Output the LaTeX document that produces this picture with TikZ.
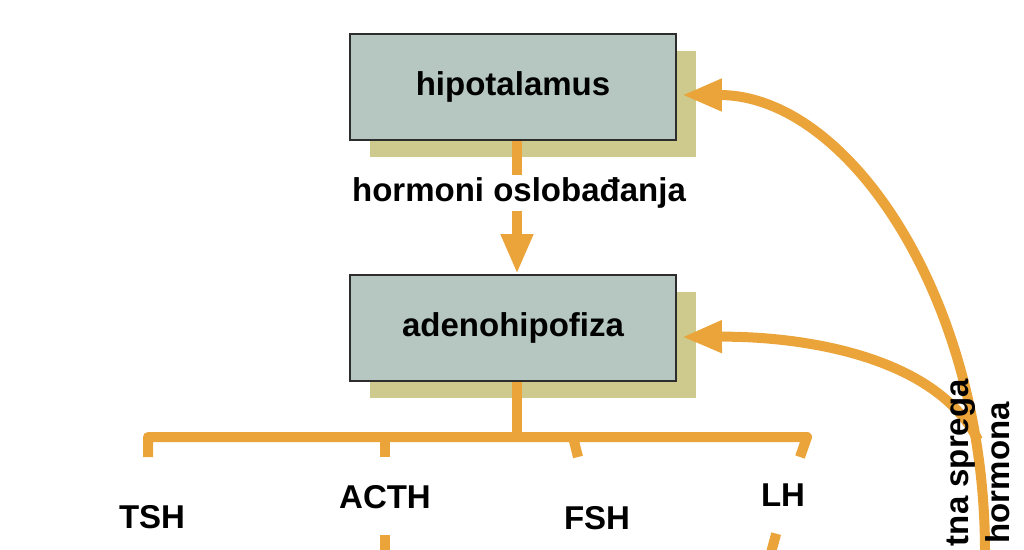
\documentclass[tikz,border=0pt]{standalone}
\usepackage{fontspec}
\setmainfont{Liberation Sans}
\usetikzlibrary{arrows.meta,shadows}

\definecolor{flowOrange}{RGB}{234,164,58}
\definecolor{boxFill}{RGB}{181,199,192}
\definecolor{boxShade}{RGB}{206,201,140}
\definecolor{boxLine}{RGB}{45,45,45}

\begin{document}
\begin{tikzpicture}
[x=1pt,y=-1pt,%
  flowDecorate/.style={draw=flowOrange,line width=10pt},%
  tipDecorate/.style={flowDecorate,-{Triangle[width=30pt,length=40pt]}},%
  boxDecorate/.style={shape=rectangle,draw=boxLine,line width=1.8pt,fill=boxFill,%
    minimum width=326pt,minimum height=106pt,%
    drop shadow={shadow xshift=20pt,shadow yshift=-17pt,fill=boxShade,opacity=1},%
    font=\bfseries\fontsize{33}{38}\selectfont},%
  textDecorate/.style={inner sep=2pt,font=\bfseries\fontsize{33}{38}\selectfont}]
\useasboundingbox (0,0) rectangle (1024,549);
\clip (0,0) rectangle (1024,549);
%% glands
\node (hipo) at (513,87) [boxDecorate] {hipotalamus};
\node (adeno) at (513,328) [boxDecorate] {adenohipofiza};
\node (release) at (519,193) [textDecorate] {hormoni oslobađanja};
%% release hormones
\draw[flowDecorate] ([xshift=4pt]hipo.south) -- ([xshift=-2pt]release.north);
\draw[tipDecorate] ([xshift=-2pt]release.south) -- ([xshift=4pt]adeno.north);
%% tropic hormones
\foreach \name/\label/\x/\y/\tx/\ex in {
  tsh/TSH/152/517/148/148, acth/ACTH/385/497/385/385,
  fsh/FSH/597/518/573/578, lh/LH/783/495/807/800}
{
  \node (\name) at (\x,\y) [textDecorate,text depth=0pt] {\label};
  \coordinate (\name-top) at (\tx,437);
  \coordinate (\name-end) at (\ex,457);
}
\draw[flowDecorate] ([xshift=4pt]adeno.south) -- ([xshift=4pt]adeno.south |- tsh-top);
\draw[flowDecorate,line join=round] (tsh-end) -- (tsh-top) -- (lh-top) -- (lh-end);
\foreach \name in {acth,fsh}
{
  \draw[flowDecorate] (\name-top) -- (\name-end);
}
\coordinate (acth-out) at (385,560);
\coordinate (lh-out) at (769,560);
\draw[flowDecorate,shorten <=24pt] (acth.south) -- (acth-out);
\draw[flowDecorate,shorten <=26pt] (lh.south) -- (lh-out);
%% feedback
\coordinate (back-low) at (985,552);
\coordinate (back-join) at (978,440);
\draw[tipDecorate] (back-low) .. controls (985,298) and (848,95) .. ([xshift=5pt,yshift=-8pt]hipo.east);
\draw[tipDecorate] (back-join) .. controls (935,355) and (800,336) .. ([xshift=5pt,yshift=-9pt]adeno.east);
\node (spreg) at (961,377) [textDecorate,rotate=90,anchor=east] {tna sprega};
\node (horm) at (998,400) [textDecorate,rotate=90,anchor=east] {hormona};
\end{tikzpicture}
\end{document}
